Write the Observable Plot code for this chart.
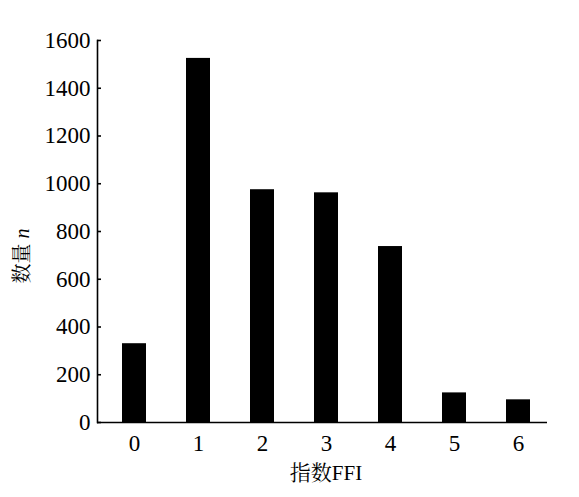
<!DOCTYPE html>
<html>
<head>
<meta charset="utf-8">
<script src="https://cdn.jsdelivr.net/npm/d3@7"></script>
<script src="https://cdn.jsdelivr.net/npm/@observablehq/plot@0.6"></script>
<style>
  html, body { margin: 0; padding: 0; background: #fff; }
  #chart svg { display: block; }
  #chart svg, #chart svg text { font-family: "Liberation Serif", "Noto Serif CJK SC", "Noto Sans CJK SC", serif !important; }
</style>
</head>
<body>
<div id="chart"></div>
<script>
const categories = ["0", "1", "2", "3", "4", "5", "6"];
const counts = [330, 1525, 975, 962, 737, 124, 95];
const yTicks = [0, 200, 400, 600, 800, 1000, 1200, 1400, 1600];
const xTitle = "指数FFI";
const yTitle = "数量";
const yTitleVar = "n";

const data = categories.map((c, i) => ({ c, n: counts[i] }));

const chart = Plot.plot({
  width: 579,
  height: 497,
  marginLeft: 97,
  marginRight: 32,
  marginTop: 40,
  marginBottom: 75,
  style: { fontSize: "23px", color: "#000", background: "#fff" },
  x: { type: "band", domain: categories, paddingInner: 0.63, paddingOuter: 0.28, align: 0.58 },
  y: { domain: [0, 1600], ticks: yTicks },
  marks: [
    Plot.barY(data, { x: "c", y: "n", fill: "#000" }),
    Plot.frame({ anchor: "left", stroke: "#000", strokeWidth: 1.6 }),
    Plot.ruleY([0], { stroke: "#000", strokeWidth: 1.6 }),
    Plot.axisY({ ticks: yTicks, tickFormat: "d", tickSize: -4, tickPadding: 11, strokeWidth: 1.6, label: null, fontSize: 23 }),
    Plot.axisX({ tickSize: 0, tickPadding: 12, label: null, fontSize: 23 })
  ]
});

document.getElementById("chart").appendChild(chart);

const svg = d3.select(chart);
svg.append("text")
  .attr("x", 326).attr("y", 480)
  .attr("text-anchor", "middle")
  .style("font-size", "21px").attr("fill", "#000")
  .text(xTitle);
const yt = svg.append("text")
  .attr("transform", "translate(29,256) rotate(-90)")
  .attr("text-anchor", "middle")
  .style("font-size", "20px").attr("fill", "#000");
yt.append("tspan").text(yTitle + " ");
yt.append("tspan").style("font-style", "italic").text(yTitleVar);
</script>
</body>
</html>
